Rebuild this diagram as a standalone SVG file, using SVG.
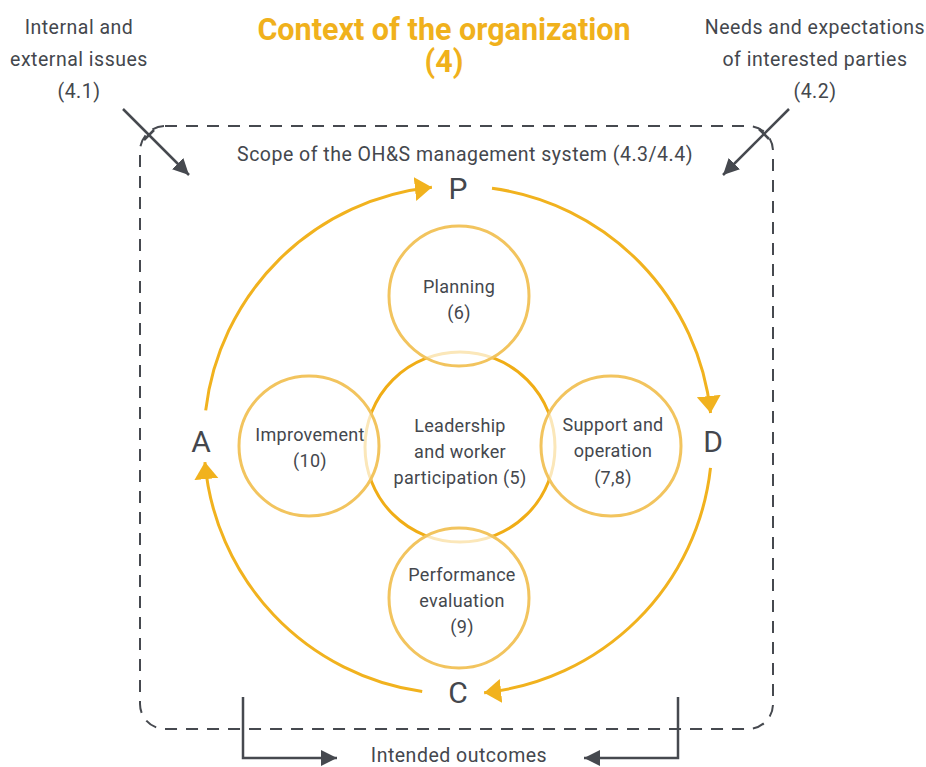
<svg xmlns="http://www.w3.org/2000/svg" width="926" height="767" viewBox="0 0 926 767">
<style>
.t{font-family:Roboto,"Liberation Sans",sans-serif;font-weight:400;fill:#44474d;text-anchor:middle}
.s{font-size:19.5px;letter-spacing:0.5px}
.c{font-size:18px;letter-spacing:0.3px}
.big{font-size:30px}
.title{font-family:Roboto,"Liberation Sans",sans-serif;font-weight:bold;font-size:30.5px;fill:#f0b11c;text-anchor:middle}
.arc{fill:none;stroke:#f1b21e;stroke-width:3}
.small{fill:#fff;fill-opacity:0.7;stroke:#f2c45e;stroke-width:3}
.dk{fill:none;stroke:#46494f;stroke-width:2.5}
</style>
<defs>
<marker id="oa" markerUnits="userSpaceOnUse" markerWidth="20" markerHeight="26" refX="17" refY="12" orient="auto" viewBox="0 0 20 26">
<path d="M0,0 L17,12 L0,24 Z" fill="#f1b21e"/>
</marker>
<marker id="da" markerUnits="userSpaceOnUse" markerWidth="18" markerHeight="16" refX="16" refY="8" orient="auto" viewBox="0 0 18 16">
<path d="M0,0 L16,8 L0,16 Z" fill="#46494f"/>
</marker>
</defs>
<g id="title">
<text class="title" x="444" y="40">Context of the organization</text>
<text class="title" x="444" y="72">(4)</text>
</g>
<g id="issues">
<text class="t s" x="79" y="34">Internal and</text>
<text class="t s" x="79" y="66">external issues</text>
<text class="t s" x="79" y="98">(4.1)</text>
</g>
<g id="needs">
<text class="t s" x="815" y="34">Needs and expectations</text>
<text class="t s" x="815" y="66">of interested parties</text>
<text class="t s" x="815" y="98">(4.2)</text>
</g>
<g id="scope">
<rect x="140" y="126" width="633" height="603" rx="25" fill="none" stroke="#46494f" stroke-width="2" stroke-dasharray="12 9"/>
<text class="t s" x="465" y="161">Scope of the OH&amp;S management system (4.3/4.4)</text>
</g>
<g id="connectors">
<path class="dk" d="M123,109 L189,175" marker-end="url(#da)"/>
<path class="dk" d="M144,140 L154,130"/>
<path class="dk" d="M789,109 L723,175" marker-end="url(#da)"/>
<path class="dk" d="M759,129 L769,139"/>
<path class="dk" d="M243,697 L243,758 L337,758" marker-end="url(#da)"/>
<path class="dk" d="M678,697 L678,758 L584,758" marker-end="url(#da)"/>
<path class="arc" d="M205.7,410.4 A254,254 0 0 1 431.9,187.3" marker-end="url(#oa)"/>
<path class="arc" d="M492,188.3 A254,254 0 0 1 710.6,413" marker-end="url(#oa)"/>
<path class="arc" d="M710.5,467.9 A254,254 0 0 1 484.1,692.7" marker-end="url(#oa)"/>
<path class="arc" d="M422.2,691.5 A254,254 0 0 1 204.9,462.1" marker-end="url(#oa)"/>
</g>
<g id="P"><text class="t big" x="458" y="199">P</text></g>
<g id="D"><text class="t big" x="713" y="452">D</text></g>
<g id="C"><text class="t big" x="458" y="703">C</text></g>
<g id="A"><text class="t big" x="201" y="452">A</text></g>
<g id="leadership">
<circle cx="460" cy="447" r="95" fill="none" stroke="#f0ad16" stroke-width="3"/>
<text class="t c" x="460" y="432">Leadership</text>
<text class="t c" x="460" y="458">and worker</text>
<text class="t c" x="460" y="484">participation (5)</text>
</g>
<g id="planning">
<circle class="small" cx="459" cy="296" r="70"/>
<text class="t c" x="459" y="293">Planning</text>
<text class="t c" x="459" y="319">(6)</text>
</g>
<g id="improvement">
<circle class="small" cx="309" cy="446" r="70"/>
<text class="t c" x="310" y="441">Improvement</text>
<text class="t c" x="310" y="467">(10)</text>
</g>
<g id="support">
<circle class="small" cx="611" cy="446" r="70"/>
<text class="t c" x="613" y="431">Support and</text>
<text class="t c" x="613" y="457">operation</text>
<text class="t c" x="613" y="484">(7,8)</text>
</g>
<g id="performance">
<circle class="small" cx="459" cy="598" r="70"/>
<text class="t c" x="462" y="581">Performance</text>
<text class="t c" x="462" y="607">evaluation</text>
<text class="t c" x="462" y="633">(9)</text>
</g>
<g id="outcomes">
<text class="t s" x="459" y="762">Intended outcomes</text>
</g>
</svg>
